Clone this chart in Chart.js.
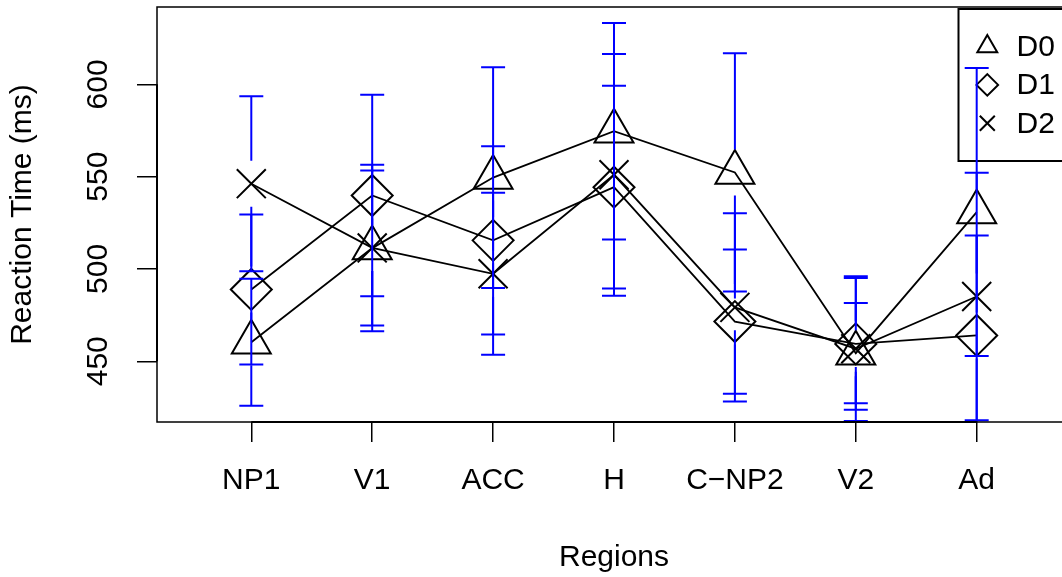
<!DOCTYPE html>
<html><head><meta charset="utf-8">
<script src="https://cdn.jsdelivr.net/npm/chart.js@4.4.1/dist/chart.umd.min.js"></script>
<style>html,body{margin:0;padding:0;overflow:hidden;background:#fff;width:1062px;height:577px}canvas{display:block}</style>
</head><body>
<canvas id="c" width="1080" height="577"></canvas>
<script>
const categories = ['NP1', 'V1', 'ACC', 'H', 'C\u2212NP2', 'V2', 'Ad'];
const yTicks = [450, 500, 550, 600];
const seriesNames = ['D0', 'D1', 'D2'];
const d0 = [460.3, 511.3, 549.5, 574.6, 552.3, 454.4, 530.8];
const d0Err = [34.4, 45.1, 59.8, 58.6, 64.5, 27.1, 78.0];
const d1 = [488.9, 539.8, 515.5, 544.3, 471.5, 459.4, 464.0];
const d1Err = [40.6, 54.6, 51.0, 54.9, 39.1, 35.7, 54.1];
const d2 = [546.2, 511.4, 497.4, 551.0, 479.2, 456.8, 485.1];
const d2Err = [47.4, 42.0, 43.9, 65.5, 51.0, 39.2, 67.0];

const FONT = "'Liberation Sans', Arial, Helvetica, sans-serif";
Chart.defaults.font.family = FONT;
Chart.defaults.font.size = 30;
Chart.defaults.color = '#000';

const values = [d0, d1, d2];
const errs = [d0Err, d1Err, d2Err];
const styles = [
  {pointStyle: 'triangle', radius: 22.5, legendRadius: 11.5},
  {pointStyle: 'rectRot', radius: 20.5, legendRadius: 10.8},
  {pointStyle: 'crossRot', radius: 20.5, legendRadius: 10.6}
];

const datasets = seriesNames.map((n, i) => ({
  label: n,
  data: values[i].map((v, j) => ({x: j + 1, y: v})),
  borderColor: '#000', borderWidth: 1.8, backgroundColor: 'rgba(0,0,0,0)',
  pointStyle: styles[i].pointStyle, pointRadius: styles[i].radius, pointHoverRadius: styles[i].radius,
  pointBorderColor: '#000', pointBorderWidth: 2, pointBackgroundColor: 'rgba(0,0,0,0)',
  tension: 0, fill: false
}));

function zeroPad(s) { s.paddingLeft = 0; s.paddingRight = 0; s.paddingTop = 0; s.paddingBottom = 0; }

const rPlot = {
  id: 'rplot',
  afterDatasetsDraw(chart) {
    const ctx = chart.ctx, ca = chart.chartArea;
    const xs = chart.scales.x, ys = chart.scales.y;
    // legend (transparent background)
    ctx.save();
    ctx.strokeStyle = '#000'; ctx.lineWidth = 2;
    ctx.strokeRect(958.5, 9, 200, 152);
    ctx.font = '30px ' + FONT;
    ctx.textAlign = 'left'; ctx.textBaseline = 'middle';
    seriesNames.forEach((n, i) => {
      const y = 46.5 + i * 38.4;
      ctx.fillStyle = 'rgba(0,0,0,0)'; ctx.strokeStyle = '#000'; ctx.lineWidth = 2;
      Chart.helpers.drawPoint(ctx, {pointStyle: styles[i].pointStyle, radius: styles[i].legendRadius, borderWidth: 2, rotation: 0}, 987.3, y);
      ctx.fillStyle = '#000';
      ctx.fillText(n, 1016.5, y + 1);
    });
    ctx.restore();
    // error bars (plotCI style with gap)
    ctx.save();
    ctx.beginPath(); ctx.rect(ca.left, ca.top, ca.right - ca.left, ca.bottom - ca.top); ctx.clip();
    ctx.strokeStyle = '#0000FF'; ctx.lineWidth = 2;
    const gap = 23, cap = 12;
    values.forEach((arr, i) => {
      arr.forEach((v, j) => {
        const px = xs.getPixelForValue(j + 1);
        const yc = ys.getPixelForValue(v);
        const yt = ys.getPixelForValue(v + errs[i][j]);
        const yb = ys.getPixelForValue(v - errs[i][j]);
        ctx.beginPath();
        if (yt < yc - gap) { ctx.moveTo(px, yt); ctx.lineTo(px, yc - gap); }
        if (yb > yc + gap) { ctx.moveTo(px, yc + gap); ctx.lineTo(px, yb); }
        ctx.moveTo(px - cap, yt); ctx.lineTo(px + cap, yt);
        ctx.moveTo(px - cap, yb); ctx.lineTo(px + cap, yb);
        ctx.stroke();
      });
    });
    ctx.restore();
  },
  afterDraw(chart) {
    const ctx = chart.ctx, ca = chart.chartArea, ys = chart.scales.y, xs = chart.scales.x;
    ctx.save();
    ctx.strokeStyle = '#000'; ctx.lineWidth = 1.5;
    ctx.strokeRect(ca.left, ca.top, ca.right - ca.left, ca.bottom - ca.top);
    // axis lines between first and last ticks (as R's axis())
    ctx.lineWidth = 2;
    ctx.beginPath();
    ctx.moveTo(xs.getPixelForValue(1), ca.bottom); ctx.lineTo(xs.getPixelForValue(categories.length), ca.bottom);
    ctx.moveTo(ca.left, ys.getPixelForValue(yTicks[0])); ctx.lineTo(ca.left, ys.getPixelForValue(yTicks[yTicks.length - 1]));
    ctx.stroke();
    // rotated y tick labels
    ctx.font = '30px ' + FONT; ctx.fillStyle = '#000';
    ctx.textAlign = 'center'; ctx.textBaseline = 'middle';
    ys.ticks.forEach(t => {
      const y = ys.getPixelForValue(t.value);
      ctx.save(); ctx.translate(99, y); ctx.rotate(-Math.PI / 2);
      ctx.fillText(String(t.value), 0, 0);
      ctx.restore();
    });
    ctx.restore();
  }
};

new Chart(document.getElementById('c'), {
  type: 'line',
  data: {datasets},
  options: {
    responsive: false, animation: false, devicePixelRatio: 1,
    layout: {autoPadding: false, padding: {top: 7, right: 9, left: 0, bottom: 0}},
    plugins: {legend: {display: false}, tooltip: {enabled: false}},
    scales: {
      x: {
        type: 'linear', min: 0.22, max: 7.78,
        afterBuildTicks: s => { s.ticks = categories.map((c, i) => ({value: i + 1})); },
        ticks: {callback: v => categories[v - 1] ?? '', padding: 21, maxRotation: 0, minRotation: 0, autoSkip: false, font: {size: 30}, color: '#000'},
        grid: {drawOnChartArea: false, drawTicks: true, tickLength: 20, color: '#000', lineWidth: 1.5},
        border: {display: false},
        title: {display: true, text: 'Regions', padding: {top: 0, bottom: 1}, font: {size: 30}, color: '#000'},
        afterFit: s => { s.height = 155; zeroPad(s); }
      },
      y: {
        type: 'linear', min: 417.1, max: 641.9,
        afterBuildTicks: s => { s.ticks = yTicks.map(v => ({value: v})); },
        ticks: {display: false},
        grid: {drawOnChartArea: false, drawTicks: true, tickLength: 20, color: '#000', lineWidth: 1.5},
        border: {display: false},
        title: {display: true, text: 'Reaction Time (ms)', padding: {top: 5, bottom: 0}, font: {size: 30}, color: '#000'},
        afterFit: s => { s.width = 157; zeroPad(s); }
      }
    }
  },
  plugins: [rPlot]
});
</script>
</body></html>
